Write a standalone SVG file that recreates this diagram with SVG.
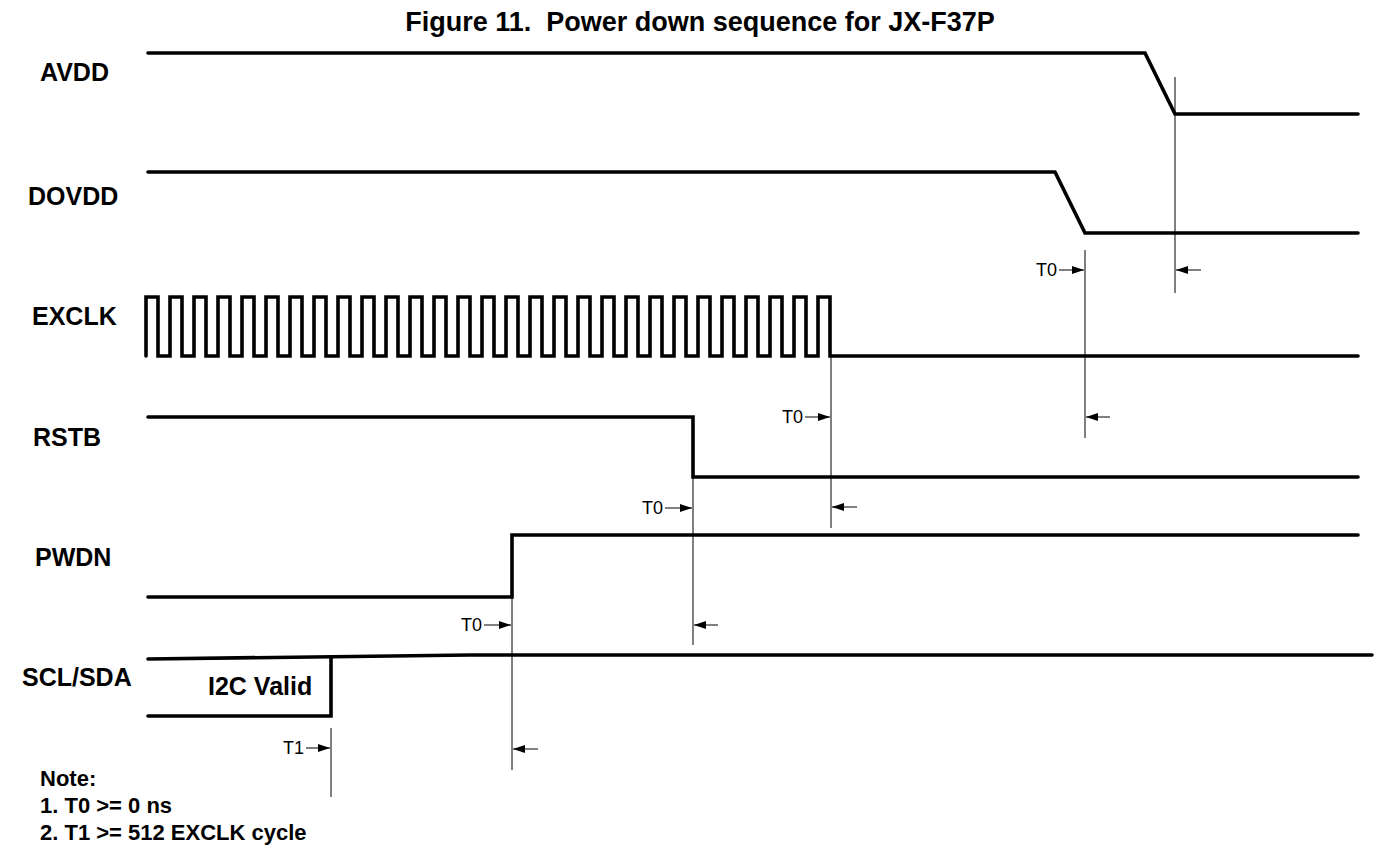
<svg xmlns="http://www.w3.org/2000/svg" width="1380" height="862" viewBox="0 0 1380 862">
<style>
.sig{fill:none;stroke:#000;stroke-width:3.6;stroke-linecap:round;stroke-linejoin:miter}
.vl{stroke:#000;stroke-width:1;fill:none}
.ar{stroke:#000;stroke-width:1;fill:none;marker-end:url(#ah)}
.lbl{font-family:"Liberation Sans",Arial,sans-serif;font-weight:bold;font-size:25px;fill:#000}
.note{font-family:"Liberation Sans",Arial,sans-serif;font-weight:bold;font-size:22px;fill:#000}
.t{font-family:"Liberation Sans",Arial,sans-serif;font-size:18px;fill:#000}
.title{font-family:"Liberation Sans",Arial,sans-serif;font-weight:bold;font-size:27px;fill:#000;white-space:pre}
</style>
<defs>
<marker id="ah" markerUnits="userSpaceOnUse" markerWidth="12" markerHeight="8" refX="12" refY="4" orient="auto">
<path d="M0,0 L12,4 L0,8 z" fill="#000"/>
</marker>
</defs>
<rect width="1380" height="862" fill="#fff"/>
<text class="title" x="700" y="31" text-anchor="middle" xml:space="preserve">Figure 11.  Power down sequence for JX-F37P</text>

<g id="avdd">
<text class="lbl" x="40" y="81">AVDD</text>
<polyline class="sig" points="148,53 1145,53 1175,114 1358,114"/>
</g>
<g id="dovdd">
<text class="lbl" x="28" y="205">DOVDD</text>
<polyline class="sig" points="148,172 1055,172 1085,233 1358,233"/>
</g>
<g id="exclk">
<text class="lbl" x="32" y="325">EXCLK</text>
<path class="sig" d="M146,356 V297 H158 V356 H170 V297 H182 V356 H194 V297 H206 V356 H218 V297 H230 V356 H242 V297 H254 V356 H266 V297 H278 V356 H290 V297 H302 V356 H314 V297 H326 V356 H338 V297 H350 V356 H362 V297 H374 V356 H386 V297 H398 V356 H410 V297 H422 V356 H434 V297 H446 V356 H458 V297 H470 V356 H482 V297 H494 V356 H506 V297 H518 V356 H530 V297 H542 V356 H554 V297 H566 V356 H578 V297 H590 V356 H602 V297 H614 V356 H626 V297 H638 V356 H650 V297 H662 V356 H674 V297 H686 V356 H698 V297 H710 V356 H722 V297 H734 V356 H746 V297 H758 V356 H770 V297 H782 V356 H794 V297 H806 V356 H818 V297 H830 V356 H1358"/>
</g>
<g id="rstb">
<text class="lbl" x="33" y="446">RSTB</text>
<polyline class="sig" points="148,417 693,417 693,477 1358,477"/>
</g>
<g id="pwdn">
<text class="lbl" x="35" y="566">PWDN</text>
<polyline class="sig" points="148,597 512,597 512,535 1358,535"/>
</g>
<g id="sclsda">
<text class="lbl" x="22" y="686">SCL/SDA</text>
<polyline class="sig" points="148,659 470,655 1372,655"/>
<polyline class="sig" points="148,716 331,716 331,657"/>
<text class="lbl" x="208" y="695">I2C Valid</text>
</g>

<g id="connectors">
<line class="vl" x1="1175" y1="77" x2="1175" y2="293"/>
<line class="ar" x1="1201" y1="270" x2="1176" y2="270"/>
<line class="vl" x1="1085" y1="250" x2="1085" y2="438"/>
<line class="ar" x1="1059" y1="270" x2="1084" y2="270"/>
<text class="t" x="1057" y="276" text-anchor="end">T0</text>
<line class="ar" x1="1110" y1="417" x2="1086" y2="417"/>
<line class="vl" x1="831" y1="356" x2="831" y2="528"/>
<line class="ar" x1="805" y1="417" x2="830" y2="417"/>
<text class="t" x="803" y="423" text-anchor="end">T0</text>
<line class="ar" x1="857" y1="507" x2="832" y2="507"/>
<line class="vl" x1="693" y1="477" x2="693" y2="645"/>
<line class="ar" x1="665" y1="508" x2="692" y2="508"/>
<text class="t" x="663" y="514" text-anchor="end">T0</text>
<line class="ar" x1="718" y1="625" x2="694" y2="625"/>
<line class="vl" x1="512" y1="597" x2="512" y2="770"/>
<line class="ar" x1="484" y1="625" x2="511" y2="625"/>
<text class="t" x="482" y="631" text-anchor="end">T0</text>
<line class="ar" x1="538" y1="749" x2="513" y2="749"/>
<line class="vl" x1="331" y1="728" x2="331" y2="797"/>
<line class="ar" x1="306" y1="748" x2="330" y2="748"/>
<text class="t" x="304" y="754" text-anchor="end">T1</text>
</g>

<g id="notes">
<text class="note" x="40" y="786">Note:</text>
<text class="note" x="40" y="813">1. T0 &gt;= 0 ns</text>
<text class="note" x="40" y="840">2. T1 &gt;= 512 EXCLK cycle</text>
</g>
</svg>
